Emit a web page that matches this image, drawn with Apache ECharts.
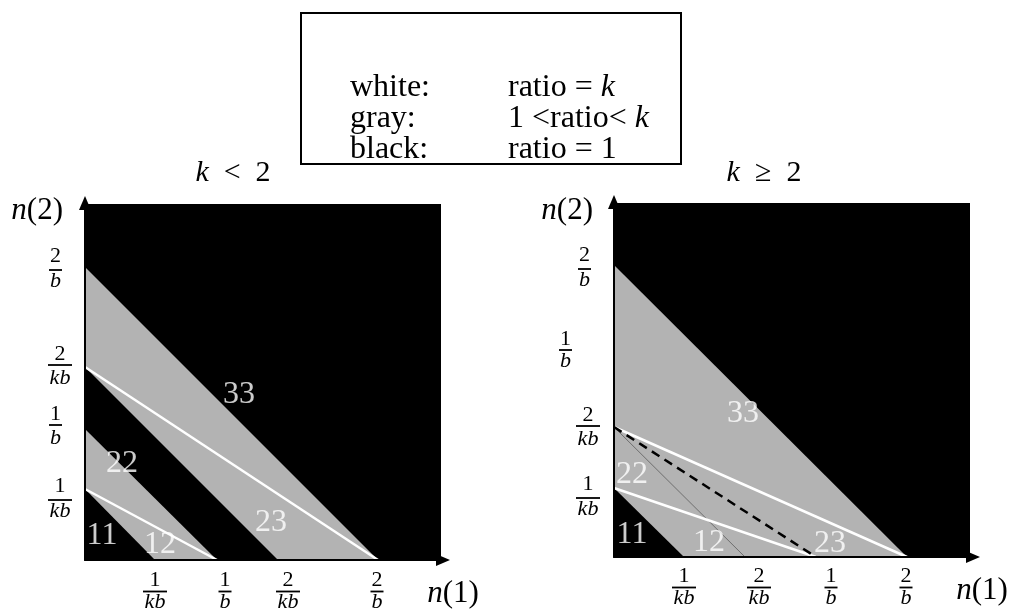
<!DOCTYPE html>
<html><head><meta charset="utf-8">
<script src="https://cdn.jsdelivr.net/npm/echarts@6/dist/echarts.min.js"></script>
<style>html,body{margin:0;padding:0;background:#fff}#c{width:1011px;height:610px}</style>
</head><body><div id="c"></div>
<script>
// ---------- data ----------
const tickNames = ['1/kb', '1/b', '2/kb', '2/b'];
const leftXTicks = [0.70, 1.32, 1.93, 2.93];
const leftYTicks = [0.71, 1.31, 1.93, 2.93];
const rightXTicks = [0.70, 2.02, 1.31, 2.93];
const rightYTicks = [0.69, 2.07, 1.30, 2.92];
const regionNames = ['11', '12', '22', '23', '33'];
const leftRegionPos = [[0.17, 0.24], [0.75, 0.15], [0.37, 0.96], [1.86, 0.37], [1.54, 1.65]];
const rightRegionPos = [[0.18, 0.22], [0.95, 0.14], [0.18, 0.82], [2.16, 0.13], [1.29, 1.43]];
const panelTitles = ['k < 2', 'k ≥ 2'];
const legendLabels = ['white:', 'gray:', 'black:'];
const legendMeanings = ['ratio = k', '1 <ratio< k', 'ratio = 1'];
const axisNames = ['n(1)', 'n(2)'];

// ---------- style ----------
const SERIF = '"Liberation Serif", "Times New Roman", serif';
const GRAY = '#b3b3b3';
const FRAC_FS = 22;
const T = (name, vals) => vals[tickNames.indexOf(name)];

function italicize(s) {
  return s.replace(/^n/, m => '{i|' + m + '}');
}

function buildFracAxis(prefix, values, shifts) {
  const rich = {};
  const texts = {};
  tickNames.forEach((name, i) => {
    const [n, d] = name.split('/');
    const W = d.length > 1 ? 24 : 13;
    const s = shifts[i];
    const dy = s.dy || 0, L = s.L || 0, R = s.R || 0;
    const base = {fontFamily: SERIF, fontSize: FRAC_FS, fontWeight: 'normal', color: '#000', width: W, align: 'center'};
    rich[prefix + 'n' + i] = Object.assign({}, base, {lineHeight: 17 + Math.max(0, 2 * dy), verticalAlign: dy > 0 ? 'bottom' : 'middle'});
    rich[prefix + 'd' + i] = Object.assign({}, base, {fontStyle: 'italic', lineHeight: 17 + Math.max(0, -2 * dy), verticalAlign: dy < 0 ? 'top' : 'middle'});
    rich[prefix + 'r' + i] = {width: W, height: 1.8, lineHeight: 5, backgroundColor: '#000', fontSize: 4, align: 'center'};
    rich[prefix + 'L' + i] = {width: L, fontSize: 4, lineHeight: 1, align: 'left'};
    rich[prefix + 'R' + i] = {width: R, fontSize: 4, lineHeight: 1, align: 'right'};
    const l = L > 0 ? '{' + prefix + 'L' + i + '| }' : '';
    const r = R > 0 ? '{' + prefix + 'R' + i + '| }' : '';
    texts[i] = l + '{' + prefix + 'n' + i + '|' + n + '}' + r + '\n' +
               l + '{' + prefix + 'r' + i + '| }' + r + '\n' +
               l + '{' + prefix + 'd' + i + '|' + d + '}' + r;
  });
  return {
    rich,
    formatter: v => {
      const i = values.findIndex(t => Math.abs(t - v) < 1e-9);
      return i >= 0 ? texts[i] : '';
    }
  };
}

const xShiftStyle = [
  [{L: 0}, {L: 16}, {L: 20}, {R: 2}],
  [{L: 0}, {L: 30}, {L: 28}, {R: 2}]
];
const yShiftStyle = [
  [{dy: 11, R: 0}, {dy: -4, R: 10}, {dy: -2, R: 0}, {dy: 3, R: 10}],
  [{dy: 10, R: 0}, {dy: 0, R: 28}, {dy: -1, R: 0}, {dy: 4, R: 9}]
];

const grids = [
  {left: 85, top: 204, width: 356, height: 356},
  {left: 614, top: 203, width: 356, height: 354}
];
const axisMax = [[3.56, 3.56], [3.56, 3.54]];
const xVals = [leftXTicks, rightXTicks];
const yVals = [leftYTicks, rightYTicks];
const xNameStyle = [{gap: 12, pad: [67, 0, 0, 0]}, {gap: 12, pad: [67, 0, 0, 0]}];
const yNameStyle = [{pad: [13, 22, 0, 0]}, {pad: [15, 21, 0, 0]}];
const xMargin = [12, 11];
const yMargin = [13, 14];

const nameRich = {i: {fontFamily: SERIF, fontStyle: 'italic', fontSize: 31, fontWeight: 'normal', color: '#000'}};

const xAxes = [], yAxes = [];
[0, 1].forEach(g => {
  const xl = buildFracAxis('x' + g, xVals[g], xShiftStyle[g]);
  const yl = buildFracAxis('y' + g, yVals[g], yShiftStyle[g]);
  const axisLine = (off) => ({show: true, onZero: false, lineStyle: {color: '#000', width: 2},
    symbol: ['none', 'triangle'], symbolSize: [12, 14], symbolOffset: [0, off]});
  xAxes.push({
    type: 'value', gridIndex: g, min: 0, max: axisMax[g][0], z: 5,
    name: italicize(axisNames[0]), nameLocation: 'end', nameGap: xNameStyle[g].gap, nameMoveOverlap: false,
    nameTextStyle: {fontFamily: SERIF, fontSize: 31, color: '#000', align: 'center', verticalAlign: 'middle',
      padding: xNameStyle[g].pad, rich: nameRich},
    axisLine: axisLine(g === 0 ? 2 : 3),
    axisTick: {show: false}, splitLine: {show: false},
    axisLabel: {show: true, customValues: xVals[g], formatter: xl.formatter, rich: xl.rich,
      align: 'center', verticalAlign: 'top', margin: xMargin[g], hideOverlap: false}
  });
  yAxes.push({
    type: 'value', gridIndex: g, min: 0, max: axisMax[g][1], z: 5,
    name: italicize(axisNames[1]), nameLocation: 'end', nameGap: 0, nameMoveOverlap: false,
    nameTextStyle: {fontFamily: SERIF, fontSize: 31, color: '#000', align: 'right', verticalAlign: 'middle',
      padding: yNameStyle[g].pad, rich: nameRich},
    axisLine: axisLine(1),
    axisTick: {show: false}, splitLine: {show: false},
    axisLabel: {show: true, customValues: yVals[g], formatter: yl.formatter, rich: yl.rich,
      align: 'right', verticalAlign: 'middle', margin: yMargin[g], hideOverlap: false}
  });
});

function poly(g, pts, color, z) {
  return {
    type: 'custom', xAxisIndex: g, yAxisIndex: g, z: z, silent: true, data: pts,
    renderItem: (params, api) => {
      if (params.dataIndex !== 0) return null;
      return {type: 'polygon', shape: {points: pts.map(p => api.coord(p))}, style: {fill: color}};
    }
  };
}
function seg(g, pts, style, z) {
  return {type: 'line', xAxisIndex: g, yAxisIndex: g, z: z, silent: true, symbol: 'none',
    data: pts, lineStyle: style};
}
function regionLabels(g, pos) {
  return {
    type: 'scatter', xAxisIndex: g, yAxisIndex: g, z: 10, silent: true, symbolSize: 1,
    itemStyle: {color: 'rgba(0,0,0,0)'},
    data: pos.map((p, i) => [p[0], p[1], regionNames[i]]),
    label: {show: true, position: 'inside', formatter: p => p.data[2], color: '#fff',
      fontFamily: SERIF, fontSize: 32}
  };
}

const LX = n => T(n, leftXTicks), LY = n => T(n, leftYTicks);
const RX = n => T(n, rightXTicks), RY = n => T(n, rightYTicks);
const white = {color: '#fff', width: 2.5};

const series = [
  // left panel
  poly(0, [[0, LY('1/kb')], [0, LY('1/b')], [LX('1/b'), 0], [LX('1/kb'), 0]], GRAY, 2),
  poly(0, [[0, LY('2/kb')], [0, LY('2/b')], [LX('2/b'), 0], [LX('2/kb'), 0]], GRAY, 2),
  seg(0, [[0, LY('1/kb')], [LX('1/b'), 0]], white, 3),
  seg(0, [[0, LY('2/kb')], [LX('2/b'), 0]], white, 3),
  regionLabels(0, leftRegionPos),
  // right panel
  poly(1, [[0, RY('1/kb')], [0, RY('2/b')], [RX('2/b'), 0], [RX('1/kb'), 0]], GRAY, 2),
  seg(1, [[0, RY('2/kb')], [RX('2/kb'), 0]], {color: '#6e6e6e', width: 1}, 3),
  seg(1, [[0, RY('1/kb')], [RX('1/b'), 0]], white, 3),
  seg(1, [[0, RY('2/kb')], [RX('2/b'), 0]], white, 3),
  seg(1, [[0, RY('2/kb')], [RX('1/b'), 0]], {color: '#000', width: 2.5, type: [9, 6]}, 4),
  regionLabels(1, rightRegionPos)
];

const titleRich = {i: {fontFamily: SERIF, fontStyle: 'italic', fontSize: 30, fontWeight: 'normal', color: '#000'}};
const titleCenters = [233, 764];
const titles = panelTitles.map((t, i) => ({
  text: t.replace(/^k/, '{i|k}').replace(/ ([<≥]) /, '\u2002$1\u2002'),
  left: titleCenters[i], top: 158, textAlign: 'center', padding: 0,
  textStyle: {fontFamily: SERIF, fontSize: 30, fontWeight: 'normal', color: '#000', lineHeight: 30, rich: titleRich}
}));

const legendText = legendLabels.map((lab, i) =>
  '{c1|' + lab + '}{c2|' + legendMeanings[i].replace(/k$/, '') + '}' +
  (/k$/.test(legendMeanings[i]) ? '{k|k}' : '')).join('\n');
const LF = 32;
titles.push({
  text: legendText, left: 350, top: 72, padding: 0,
  textStyle: {fontFamily: SERIF, fontSize: LF, fontWeight: 'normal', color: '#000', lineHeight: 31,
    rich: {
      c1: {fontFamily: SERIF, fontSize: LF, fontWeight: 'normal', color: '#000', width: 158, lineHeight: 31},
      c2: {fontFamily: SERIF, fontSize: LF, fontWeight: 'normal', color: '#000', lineHeight: 31},
      k: {fontFamily: SERIF, fontSize: LF, fontStyle: 'italic', fontWeight: 'normal', color: '#000', lineHeight: 31}
    }}
});

const chart = echarts.init(document.getElementById('c'), null, {renderer: 'canvas'});
chart.setOption({
  animation: false,
  backgroundColor: '#fff',
  title: titles,
  graphic: [{type: 'rect', shape: {x: 301, y: 13, width: 380, height: 151},
    style: {fill: 'none', stroke: '#000', lineWidth: 2}, z: 100}],
  grid: grids.map(g => Object.assign({show: true, backgroundColor: '#000', borderWidth: 0,
    containLabel: false, outerBoundsMode: 'none'}, g)),
  xAxis: xAxes,
  yAxis: yAxes,
  series: series
});
</script></body></html>
